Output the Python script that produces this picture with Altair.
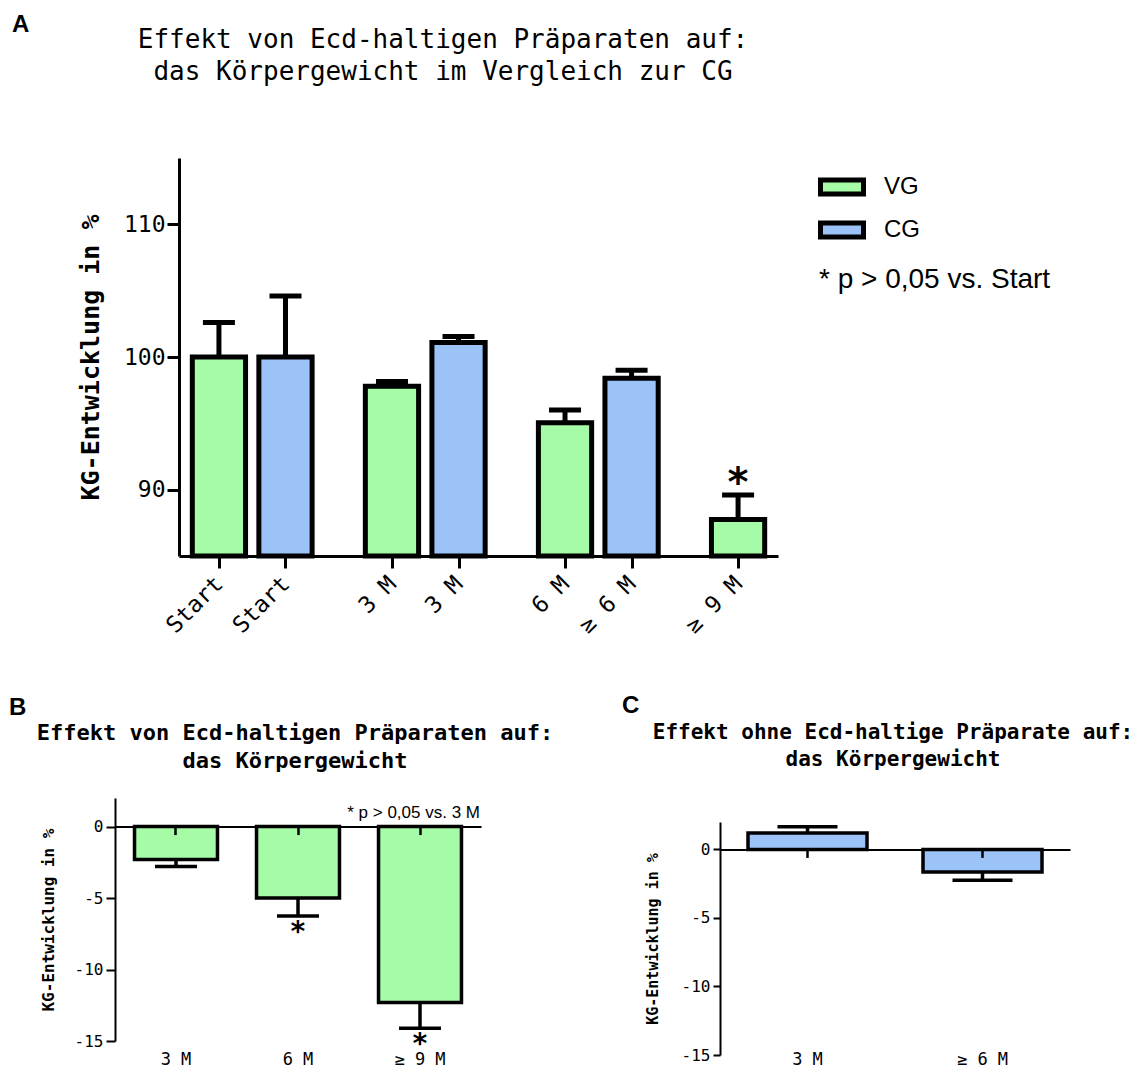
import altair as alt
import pandas as pd

# ---------------- data ----------------
# Panel A
a_timepoints = ["Start", "Start", "3 M", "3 M", "6 M", "6 M", "9 M"]
a_labels = ["Start", "Start", "3 M", "3 M", "6 M", "≥ 6 M", "≥ 9 M"]
a_groups = ["VG", "CG", "VG", "CG", "VG", "CG", "VG"]
a_values = [100.0, 100.0, 97.8, 101.1, 95.05, 98.4, 87.75]
a_errors = [2.6, 4.6, 0.35, 0.45, 0.95, 0.6, 1.85]
a_sig = [False, False, False, False, False, False, True]

# Panel B
b_labels = ["3 M", "6 M", "≥ 9 M"]
b_values = [-2.3, -5.0, -12.3]
b_errors = [0.5, 1.25, 1.8]
b_sig = [False, True, True]

# Panel C
c_labels = ["3 M", "≥ 6 M"]
c_values = [1.2, -1.65]
c_errors = [0.45, 0.6]
c_sig = [False, False]

# ---------------- style ----------------
W, H = 1129, 1062
MONO = "DejaVu Sans Mono"
SANS = "Liberation Sans"
GREEN = "#A6FBA6"
BLUE = "#9BC3F8"

# ---------------- panel A ----------------
tp_order = list(dict.fromkeys(a_timepoints))
GROUP_STEP, PAIR_STEP, HALF = 13, 5, 2
a_pos = [GROUP_STEP * tp_order.index(t) + PAIR_STEP * (g == "CG")
         for t, g in zip(a_timepoints, a_groups)]
df_a = pd.DataFrame({"label": a_labels, "group": a_groups, "value": a_values,
                     "err": a_errors, "sig": a_sig, "pos": a_pos})
df_a["left"] = df_a["pos"] - HALF
df_a["right"] = df_a["pos"] + HALF
df_a["end"] = df_a["value"] + df_a["err"]

A_X0, A_X1, A_Y0, A_Y1 = 171, 770, 548, 150


def xa_scale():
    return alt.Scale(domain=[-3, 42], range=[A_X0, A_X1], zero=False, nice=False)


def ya_scale():
    return alt.Scale(domain=[85, 115], range=[A_Y0, A_Y1], zero=False, nice=False)


label_expr = ("[" + ",".join("'%s'" % l for l in a_labels) + "][indexof(["
              + ",".join(str(p) for p in a_pos) + "], datum.value)]")

xa_axis = alt.Axis(orient="bottom", offset=A_Y0 - H, values=a_pos, labelExpr=label_expr,
                   labelAngle=-45, labelAlign="right", labelBaseline="middle",
                   labelFont=MONO, labelFontSize=23, labelColor="black", labelPadding=12,
                   labelOverlap=False, labelFlush=False,
                   tickSize=12, tickWidth=3, tickColor="black",
                   domainWidth=3, domainColor="black", title=None, grid=False, zindex=1)
ya_axis = alt.Axis(orient="left", offset=-A_X0, values=[90, 100, 110],
                   labelExpr="'' + datum.value",
                   labelFont=MONO, labelFontSize=23, labelColor="black", labelPadding=2,
                   tickSize=12, tickWidth=3, tickColor="black",
                   domainWidth=3, domainColor="black", grid=False, zindex=1,
                   title="KG-Entwicklung in %", titleFont=MONO, titleFontSize=25,
                   titleFontWeight="bold", titleColor="black", titleX=-89,
                   titleAngle=270, titleBaseline="middle", titleAlign="center")

legend_a = alt.Legend(title=None, orient="none", legendX=810, legendY=155, direction="vertical",
                      symbolType="M-1,-0.32H1V0.32H-1Z", symbolSize=1849,
                      symbolStrokeColor="black", symbolStrokeWidth=5, symbolOpacity=1,
                      labelFont=SANS, labelFontSize=24, labelColor="black", labelOffset=18,
                      rowPadding=2, padding=0, offset=0)

layers = []
layers.append(alt.Chart(df_a).mark_bar(stroke="black", strokeWidth=5).encode(
    x=alt.X("left:Q", scale=xa_scale(), axis=xa_axis),
    x2="right:Q",
    y=alt.Y("value:Q", scale=ya_scale(), axis=ya_axis),
    y2=alt.datum(85),
    fill=alt.Fill("group:N", scale=alt.Scale(domain=["VG", "CG"], range=[GREEN, BLUE]),
                  legend=legend_a),
))
layers.append(alt.Chart(df_a).mark_rule(color="black", strokeWidth=5).encode(
    x=alt.X("pos:Q", scale=xa_scale(), axis=None),
    y=alt.Y("value:Q", scale=ya_scale(), axis=None),
    y2="end:Q",
))
layers.append(alt.Chart(df_a).mark_tick(color="black", orient="horizontal", size=32,
                                        thickness=5, opacity=1).encode(
    x=alt.X("pos:Q", scale=xa_scale(), axis=None),
    y=alt.Y("end:Q", scale=ya_scale(), axis=None),
))
layers.append(alt.Chart(df_a).transform_filter("datum.sig").mark_text(
    text="*", font=MONO, fontSize=40, fontWeight="bold", baseline="alphabetic",
    dy=1, color="black").encode(
    x=alt.X("pos:Q", scale=xa_scale(), axis=None),
    y=alt.Y("end:Q", scale=ya_scale(), axis=None),
))


# ---------------- panels B and C (change charts) ----------------
def change_panel(labels, values, errors, sig, fill, x0, x1, y_bottom, y_top,
                 tick_size, cap_size, stroke_w, ytick, title_x, title_size,
                 label_dy, star_dy):
    df = pd.DataFrame({"cat": labels, "value": values, "err": errors, "sig": sig})
    df["end"] = [v + (e if v >= 0 else -e) for v, e in zip(values, errors)]
    y_min, y_max = -15, 2

    def xs():
        return alt.Scale(domain=labels, range=[x0, x1], paddingInner=0.32, paddingOuter=0.16)

    def ys():
        return alt.Scale(domain=[y_min, y_max], range=[y_bottom, y_top], zero=False, nice=False)

    zero_px = y_bottom - (0 - y_min) * (y_bottom - y_top) / (y_max - y_min)
    x_axis = alt.Axis(orient="bottom", offset=zero_px - H, labels=False,
                      tickSize=tick_size, tickWidth=2.5, tickColor="black",
                      domainWidth=2, domainColor="black", title=None, grid=False, zindex=1)
    y_axis = alt.Axis(orient="left", offset=-x0, values=[0, -5, -10, -15],
                      labelExpr="'' + datum.value",
                      labelFont=MONO, labelFontSize=16, labelColor="black", labelPadding=3,
                      tickSize=ytick, tickWidth=2, tickColor="black",
                      domainWidth=2, domainColor="black", grid=False, zindex=1,
                      title="KG-Entwicklung in %", titleFont=MONO, titleFontSize=title_size,
                      titleFontWeight="bold", titleColor="black", titleX=title_x,
                      titleAngle=270, titleBaseline="middle", titleAlign="center")
    out = []
    out.append(alt.Chart(df).mark_bar(fill=fill, stroke="black", strokeWidth=stroke_w).encode(
        x=alt.X("cat:N", scale=xs(), axis=x_axis, sort=labels),
        y=alt.Y("value:Q", scale=ys(), axis=y_axis),
        y2=alt.datum(0),
    ))
    out.append(alt.Chart(df).mark_rule(color="black", strokeWidth=stroke_w).encode(
        x=alt.X("cat:N", scale=xs(), axis=None, sort=labels),
        y=alt.Y("value:Q", scale=ys(), axis=None),
        y2="end:Q",
    ))
    out.append(alt.Chart(df).mark_tick(color="black", orient="horizontal", size=cap_size,
                                       thickness=stroke_w, opacity=1).encode(
        x=alt.X("cat:N", scale=xs(), axis=None, sort=labels),
        y=alt.Y("end:Q", scale=ys(), axis=None),
    ))
    if any(sig):
        out.append(alt.Chart(df).transform_filter("datum.sig").mark_text(
            text="*", font=MONO, fontSize=28, fontWeight="bold", baseline="alphabetic",
            dy=star_dy, color="black").encode(
            x=alt.X("cat:N", scale=xs(), axis=None, sort=labels),
            y=alt.Y("end:Q", scale=ys(), axis=None),
        ))
    out.append(alt.Chart(df).mark_text(font=MONO, fontSize=17, baseline="middle",
                                       dy=label_dy, color="black").encode(
        x=alt.X("cat:N", scale=xs(), axis=None, sort=labels),
        y=alt.YDatum(y_min, scale=ys(), axis=None),
        text="cat:N",
    ))
    return out


layers += change_panel(b_labels, b_values, b_errors, b_sig, GREEN,
                       x0=107, x1=473, y_bottom=1033, y_top=790,
                       tick_size=8, cap_size=42, stroke_w=3.5, ytick=9,
                       title_x=-67, title_size=16, label_dy=19, star_dy=25)
layers += change_panel(c_labels, c_values, c_errors, c_sig, BLUE,
                       x0=712, x1=1062, y_bottom=1047, y_top=814,
                       tick_size=8, cap_size=60, stroke_w=3.5, ytick=7,
                       title_x=-68, title_size=15, label_dy=5, star_dy=25)

# ---------------- annotations ----------------
dummy = pd.DataFrame({"k": [0]})


def txt(text, x, y, font, size, weight="normal", align="left", lh=None):
    kw = dict(text=text, font=font, fontSize=size, fontWeight=weight, align=align,
              baseline="alphabetic", color="black")
    if lh:
        kw["lineHeight"] = lh
    return alt.Chart(dummy).mark_text(**kw).encode(x=alt.value(x), y=alt.value(y))


layers += [
    txt("A", 4, 24, SANS, 24, "bold"),
    txt("B", 1, 707, SANS, 24, "bold"),
    txt("C", 614, 705, SANS, 24, "bold"),
    txt(["Effekt von Ecd-haltigen Präparaten auf:",
         "das Körpergewicht im Vergleich zur CG"], 435, 40, MONO, 26, "normal", "center", 32),
    txt(["Effekt von Ecd-haltigen Präparaten auf:", "das Körpergewicht"],
        287, 732, MONO, 22, "bold", "center", 28),
    txt(["Effekt ohne Ecd-haltige Präparate auf:", "das Körpergewicht"],
        885, 731, MONO, 21, "bold", "center", 27),
    txt("* p > 0,05 vs. Start", 811, 280, SANS, 28),
    txt("* p > 0,05 vs. 3 M", 472, 810, SANS, 17, "normal", "right"),
]

chart = alt.layer(*layers).resolve_scale(
    x="independent", y="independent"
).properties(
    width=W, height=H, padding=0, autosize=alt.AutoSizeParams(type="none")
).configure_view(stroke=None)

chart.save("out.html", embed_options={"renderer": "svg", "actions": False})
